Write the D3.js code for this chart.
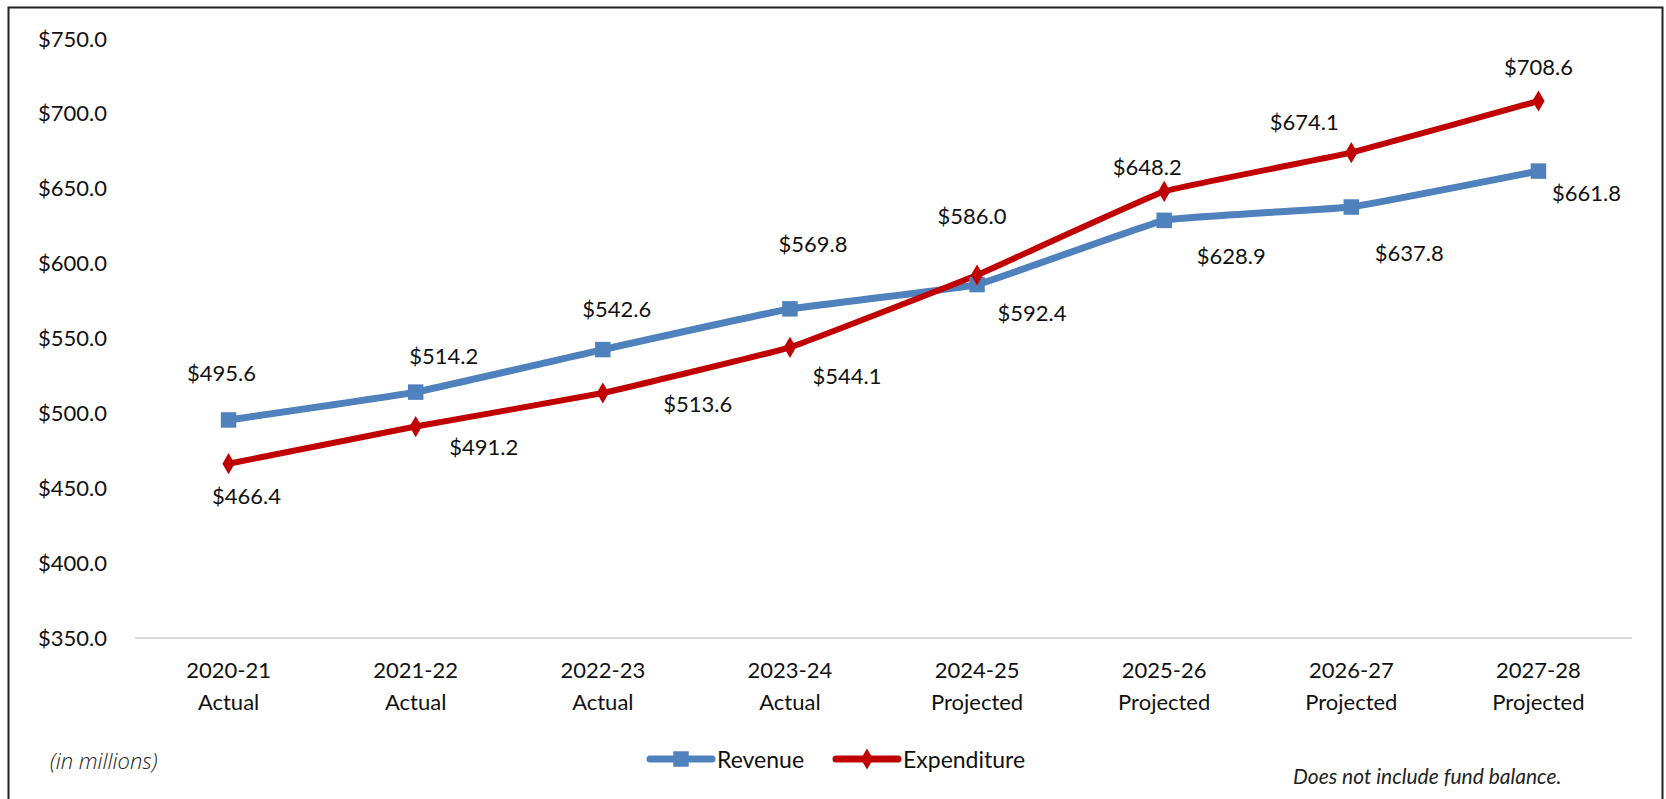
<!DOCTYPE html>
<html>
<head>
<meta charset="utf-8">
<script src="https://cdn.jsdelivr.net/npm/d3@7"></script>
<style>
    body { margin: 0; background: #fff; }
    svg { display: block; }
    .tick text { font-family: Lato, "Open Sans", sans-serif; font-size: 22px; fill: #111; }
    .val-label { font-family: Lato, "Open Sans", sans-serif; font-size: 22px; fill: #111; }
</style>
</head>
<body>
<div id="chart"></div>
<script>
// == DATA == //
let years = ['2020-21','2021-22','2022-23','2023-24','2024-25','2025-26','2026-27','2027-28'];
let status = ['Actual','Actual','Actual','Actual','Projected','Projected','Projected','Projected'];
let revenue = [495.6, 514.2, 542.6, 569.8, 586.0, 628.9, 637.8, 661.8];
let expenditure = [466.4, 491.2, 513.6, 544.1, 592.4, 648.2, 674.1, 708.6];
let yTicks = [350, 400, 450, 500, 550, 600, 650, 700, 750];

// label nudges (px) from each marker, as placed in the original
let revenueLabelOffset = [[-7,-47],[28,-37],[14,-41],[23,-65],[-5,-69],[67,35],[58,45],[48,21]];
let expenditureLabelOffset = [[18,32],[68,20],[95,10],[57,28],[55,37],[-17,-25],[-47,-31],[0,-34]];

let width = 1666, height = 799;
let plot = {left: 135, right: 1632, top: 39, bottom: 638};
let blue = '#4F81BD', red = '#C00000';

let svg = d3.select('#chart').append('svg')
    .attr('width', width)
    .attr('height', height);

// frame
svg.append('rect')
    .attr('x', 8.5).attr('y', 7.5)
    .attr('width', 1654).attr('height', 820)
    .attr('fill', 'none')
    .attr('stroke', '#222')
    .attr('stroke-width', 2);

// scales
let x = d3.scaleBand().domain(years).range([plot.left, plot.right]);
let cx = d => x(d) + x.bandwidth() / 2;
let y = d3.scaleLinear().domain([350, 750]).range([plot.bottom, plot.top]);

// y axis
let yAxis = svg.append('g')
    .attr('transform', `translate(${plot.left},0)`)
    .call(d3.axisLeft(y).tickValues(yTicks).tickSize(0).tickPadding(28)
        .tickFormat(d => '$' + d.toFixed(1)));
yAxis.select('.domain').remove();

// baseline
svg.append('line')
    .attr('x1', plot.left).attr('x2', plot.right)
    .attr('y1', y(350)).attr('y2', y(350))
    .attr('stroke', '#d9d9d9')
    .attr('stroke-width', 2);

// x axis (two line labels)
let xAxis = svg.append('g')
    .attr('transform', `translate(0,${plot.bottom})`)
    .call(d3.axisBottom(x).tickSize(0).tickFormat(''));
xAxis.select('.domain').remove();
xAxis.selectAll('.tick text').remove();
xAxis.selectAll('.tick').append('text')
    .attr('text-anchor', 'middle')
    .each(function(d, i) {
        let t = d3.select(this);
        t.append('tspan').attr('x', 0).attr('y', 40).text(d);
        t.append('tspan').attr('x', 0).attr('y', 72).text(status[i]);
    });

// lines (nearly straight, slight excel-like smoothing)
let line = d3.line()
    .x((d, i) => cx(years[i]))
    .y(d => y(d))
    .curve(d3.curveCardinal.tension(0.75));

svg.append('path')
    .datum(revenue)
    .attr('d', line)
    .attr('fill', 'none')
    .attr('stroke', blue)
    .attr('stroke-width', 7)
    .attr('stroke-linejoin', 'round');

svg.append('path')
    .datum(expenditure)
    .attr('d', line)
    .attr('fill', 'none')
    .attr('stroke', red)
    .attr('stroke-width', 6)
    .attr('stroke-linejoin', 'round');

// markers
let squareSym = d3.symbol().type(d3.symbolSquare).size(240);
let diamondSym = d3.symbol().type(d3.symbolDiamond).size(130);

svg.selectAll('.rev-marker')
    .data(revenue)
    .enter().append('path')
    .attr('class', 'rev-marker')
    .attr('d', squareSym)
    .attr('transform', (d, i) => `translate(${cx(years[i])},${y(d)})`)
    .attr('fill', blue);

svg.selectAll('.exp-marker')
    .data(expenditure)
    .enter().append('path')
    .attr('class', 'exp-marker')
    .attr('d', diamondSym)
    .attr('transform', (d, i) => `translate(${cx(years[i])},${y(d)})`)
    .attr('fill', red);

// value labels
function addLabels(values, offsets, cls) {
    svg.selectAll('.' + cls)
        .data(values)
        .enter().append('text')
        .attr('class', 'val-label ' + cls)
        .attr('x', (d, i) => cx(years[i]) + offsets[i][0])
        .attr('y', (d, i) => y(d) + offsets[i][1])
        .attr('text-anchor', 'middle')
        .attr('dominant-baseline', 'central')
        .text(d => '$' + d.toFixed(1));
}
addLabels(revenue, revenueLabelOffset, 'rev-label');
addLabels(expenditure, expenditureLabelOffset, 'exp-label');

// legend
let legend = svg.append('g').attr('class', 'legend');
let legendItems = [
    {name: 'Revenue', color: blue, sym: squareSym, x: 650, w: 7},
    {name: 'Expenditure', color: red, sym: diamondSym, x: 836, w: 7}
];
legendItems.forEach(item => {
    let g = legend.append('g').attr('transform', `translate(${item.x},759)`);
    g.append('line')
        .attr('x1', 0).attr('x2', 62)
        .attr('stroke', item.color)
        .attr('stroke-width', item.w)
        .attr('stroke-linecap', 'round');
    g.append('path')
        .attr('d', item.sym)
        .attr('transform', 'translate(31,0)')
        .attr('fill', item.color);
    g.append('text')
        .attr('x', 67)
        .attr('dominant-baseline', 'central')
        .attr('font-family', 'Lato, "Open Sans", sans-serif')
        .attr('font-size', '23px')
        .attr('fill', '#111')
        .text(item.name);
});

// notes
svg.append('text')
    .attr('x', 50).attr('y', 760)
    .attr('dominant-baseline', 'central')
    .attr('font-family', '"Open Sans", sans-serif')
    .attr('font-weight', 300)
    .attr('font-style', 'italic')
    .attr('font-size', '22px')
    .attr('fill', '#222')
    .text('(in millions)');

svg.append('text')
    .attr('x', 1293).attr('y', 775)
    .attr('dominant-baseline', 'central')
    .attr('font-family', 'Lato, sans-serif')
    .attr('font-style', 'italic')
    .attr('font-weight', 400)
    .attr('font-size', '21px')
    .attr('fill', '#222')
    .text('Does not include fund balance.');
</script>
</body>
</html>
